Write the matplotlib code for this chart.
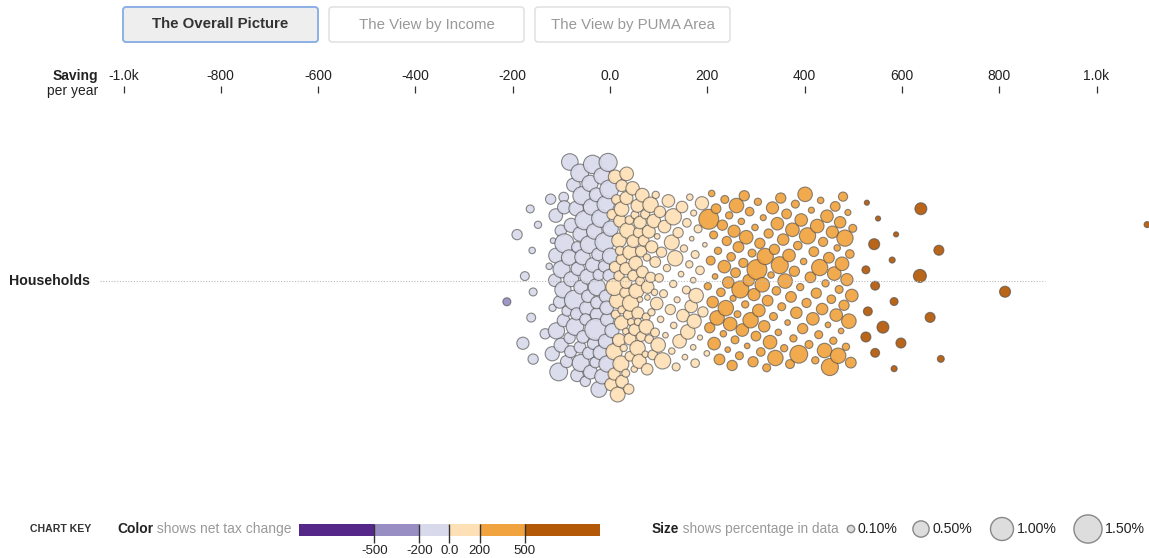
import numpy as np
import matplotlib.pyplot as plt
from matplotlib.colors import ListedColormap, BoundaryNorm
from matplotlib.patches import FancyBboxPatch, Circle

plt.rcParams['font.family'] = ['Liberation Sans', 'DejaVu Sans']

# ---- data: saving per year ($) and share of households (%) for each bubble ----
loss_saving = [
    -212, -191, -179, -175, -164, -162, -160, -158, -158, -148, -132, -125, -122, -118, -117, -117, -113,
    -111, -109, -106, -104, -103, -101, -98, -96, -95, -93, -92, -89, -88, -86, -84,
    -82, -80, -78, -77, -74, -73, -72, -71, -69, -67, -66, -64, -63, -61, -60, -58,
    -57, -56, -54, -52, -51, -50, -49, -47, -45, -44, -43, -41, -40, -39, -37, -35,
    -34, -33, -32, -31, -30, -29, -27, -26, -25, -24, -23, -22, -21, -20, -19, -18, -16, -15, -14, -13,
    -12, -11, -10, -9, -8, -7, -6, -5, -4, -3, -2, -1,
]
loss_share = [
    0.12, 0.2, 0.28, 0.15, 0.12, 0.15, 0.08, 0.2, 0.12, 0.1, 0.2, 0.08, 0.2, 0.1, 0.06, 0.38, 0.3,
    0.35, 0.5, 0.42, 0.6, 0.3, 0.25, 0.38, 0.55, 0.18, 0.3, 0.7, 0.28, 0.5, 0.33, 0.24,
    0.45, 0.52, 0.2, 0.38, 0.27, 0.42, 0.35, 0.58, 0.22, 0.3, 0.75, 0.4, 0.26, 0.34, 0.6, 0.28,
    0.4, 0.55, 0.36, 0.62, 0.3, 0.45, 0.2, 0.38, 0.68, 0.28, 0.42, 0.5, 0.25, 0.58, 0.36, 0.3,
    0.5, 0.26, 0.4, 0.64, 0.32, 0.46, 0.22, 0.55, 0.36, 0.9, 0.3, 0.48, 0.28, 0.6, 0.38, 0.24, 0.52, 0.34, 0.7, 0.42,
    0.3, 0.56, 0.4, 0.25, 0.62, 0.35, 0.45, 0.5, 0.28, 0.66, 0.38, 0.48,
]

gain_low_saving = [
    1, 2, 3, 4, 5, 6, 7, 8, 9, 10, 11, 12, 13, 14, 15, 16, 17, 18, 19, 20,
    21, 22, 23, 24, 25, 26, 27, 28, 29, 30, 31, 32, 33, 35, 36, 37, 38, 39, 40, 41,
    42, 43, 44, 46, 47, 48, 49, 50, 51, 52, 54, 55, 56, 57, 58, 60, 61, 62, 63, 64,
    66, 67, 68, 69, 71, 72, 73, 75, 76, 77, 79, 80, 81, 83, 84, 85, 87, 88, 90, 91,
    93, 94, 96, 97, 99, 100, 102, 104, 106, 108, 110, 112,
    114, 117, 120, 124, 127, 127, 130, 130, 131, 134, 136, 138, 140, 143, 146, 148, 150, 152, 154, 157,
    158, 160, 163, 164, 167, 168, 171, 171, 172, 173, 175, 175, 177, 181, 185, 185, 189, 191, 195, 199,
]
gain_low_share = [
    0.3, 0.45, 0.2, 0.5, 0.25, 0.35, 0.15, 0.4, 0.28, 0.55, 0.18, 0.32, 0.22, 0.42, 0.12, 0.3, 0.48, 0.2, 0.26, 0.38,
    0.15, 0.3, 0.22, 0.4, 0.1, 0.28, 0.35, 0.18, 0.45, 0.12, 0.25, 0.32, 0.08, 0.38, 0.2, 0.5, 0.14, 0.27, 0.22, 0.34,
    0.1, 0.3, 0.18, 0.42, 0.12, 0.25, 0.35, 0.08, 0.28, 0.2, 0.45, 0.15, 0.32, 0.1, 0.24, 0.38, 0.06, 0.3, 0.18, 0.26,
    0.35, 0.12, 0.22, 0.08, 0.3, 0.16, 0.4, 0.1, 0.25, 0.06, 0.32, 0.14, 0.2, 0.45, 0.1, 0.28, 0.18, 0.08, 0.35, 0.15,
    0.22, 0.1, 0.3, 0.06, 0.4, 0.14, 0.25, 0.08, 0.2, 0.5, 0.12, 0.3,
    0.06, 0.1, 0.3, 0.2, 0.42, 0.08, 0.1, 0.5, 0.08, 0.45, 0.12, 0.07, 0.2, 0.35, 0.06, 0.25, 0.3, 0.1, 0.06, 0.12,
    0.14, 0.4, 0.1, 0.08, 0.3, 0.04, 0.06, 0.06, 0.07, 0.38, 0.12, 0.14, 0.4, 0.12, 0.05, 0.14, 0.33, 0.2, 0.04, 0.06,
]

gain_mid_saving = [
    201, 203, 205, 207, 209, 211, 213, 214, 216, 218, 220, 222, 225, 228,
    231, 233, 235, 236, 238, 240, 242, 243, 245, 247, 249, 251, 253, 255, 257, 258, 260, 262,
    264, 266, 268, 270, 272, 274, 276, 278, 280, 282, 285, 287, 289, 292, 294, 296, 298, 300,
    302, 304, 306, 308, 310, 313, 315, 317, 319, 322, 324, 326, 329, 331, 334, 336, 338, 340,
    342, 344, 346, 349, 351, 353, 356, 358, 360, 363, 365, 368, 370, 372, 375, 377, 379, 381,
    383, 386, 388, 391, 393, 396, 398, 401, 404, 406, 409, 412, 414, 417, 419, 422,
    424, 426, 429, 431, 433, 436, 438, 441, 443, 446, 448, 450, 452, 455, 457, 459, 461, 463,
    465, 467, 469, 471, 473, 475, 477, 479, 481, 483, 485, 487, 489, 491, 493, 495, 497, 499,
]
gain_mid_share = [
    0.1, 0.75, 0.2, 0.15, 0.08, 0.25, 0.12, 0.3, 0.06, 0.18, 0.4, 0.1, 0.22, 0.14,
    0.2, 0.08, 0.3, 0.12, 0.45, 0.16, 0.06, 0.25, 0.1, 0.35, 0.14, 0.2, 0.07, 0.28, 0.12, 0.18, 0.4, 0.09,
    0.22, 0.12, 0.55, 0.08, 0.3, 0.16, 0.2, 0.1, 0.35, 0.06, 0.25, 0.14, 0.45, 0.12, 0.2, 0.28, 0.08, 0.18,
    0.75, 0.1, 0.3, 0.2, 0.14, 0.4, 0.07, 0.25, 0.5, 0.12, 0.22, 0.16, 0.35, 0.08, 0.28, 0.12, 0.2, 0.45,
    0.14, 0.3, 0.08, 0.55, 0.2, 0.12, 0.25, 0.1, 0.4, 0.18, 0.06, 0.3, 0.15, 0.22, 0.35, 0.1, 0.2, 0.12,
    0.25, 0.14, 0.6, 0.1, 0.3, 0.2, 0.08, 0.4, 0.16, 0.5, 0.12, 0.22, 0.07, 0.3, 0.18, 0.1,
    0.2, 0.35, 0.12, 0.5, 0.08, 0.25, 0.16, 0.4, 0.1, 0.3, 0.06, 0.22, 0.55, 0.14, 0.28, 0.1, 0.35, 0.18,
    0.3, 0.08, 0.45, 0.12, 0.25, 0.06, 0.35, 0.16, 0.2, 0.5, 0.1, 0.28, 0.07, 0.4, 0.14, 0.22, 0.3, 0.12,
]

gain_high_saving = [526, 526, 528, 530, 543, 545, 545, 551, 561, 580, 584, 584, 588, 598,
                    637, 639, 658, 676, 680, 812, 1104]
gain_high_share = [0.19, 0.12, 0.05, 0.15, 0.23, 0.15, 0.15, 0.05, 0.27, 0.07, 0.07, 0.12, 0.05, 0.19,
                   0.32, 0.27, 0.19, 0.19, 0.09, 0.23, 0.07]

axis_ticks = [-1000, -800, -600, -400, -200, 0, 200, 400, 600, 800, 1000]
axis_labels = ['-1.0k', '-800', '-600', '-400', '-200', '0.0', '200', '400', '600', '800', '1.0k']
key_bounds = [-500, -200, 0, 200, 500]
key_labels = ['-500', '-200', '0.0', '200', '500']
key_colors = ['#542788', '#998ec3', '#d8daeb', '#fee0b6', '#f1a340', '#b35806']
size_legend = [0.1, 0.5, 1.0, 1.5]
size_labels = ['0.10%', '0.50%', '1.00%', '1.50%']
buttons = ['The Overall Picture', 'The View by Income', 'The View by PUMA Area']

cmap = ListedColormap(key_colors)
norm = BoundaryNorm([-5000] + key_bounds + [5000], cmap.N)

W, H = 1149, 558
ROW_Y = 281


def bubble_r(share):
    return 11.5 * np.sqrt(np.asarray(share, dtype=float))


fig = plt.figure(figsize=(W / 100, H / 100), dpi=100)
ax = fig.add_axes([0, 0, 1, 1])
ax.set_xlim(-610 / 0.4865, (W - 610) / 0.4865)
ax.set_ylim(H, 0)
ax.set_axis_off()

deco = fig.add_axes([0, 0, 1, 1])
deco.set_xlim(0, W)
deco.set_ylim(H, 0)
deco.set_axis_off()

# ---- beeswarm layout (force simulation in pixel space) ----
saving = np.array(loss_saving + gain_low_saving + gain_mid_saving + gain_high_saving, dtype=float)
share = np.array(loss_share + gain_low_share + gain_mid_share + gain_high_share, dtype=float)
rad = bubble_r(share)
n = len(saving)
tx = ax.transData.transform(np.column_stack([saving, np.zeros(n)]))[:, 0]

# start spread evenly over the band (golden-ratio sequence), then relax
spread = ((np.arange(n) + 1) * 0.6180339887) % 1.0 - 0.5
x = tx.copy()
y = ROW_Y + spread * 200
vx = np.zeros(n)
vy = np.zeros(n)
cr = rad * 0.8 + 0.5
r2 = cr ** 2
wgt = r2[None, :] / (r2[:, None] + r2[None, :])
R = cr[:, None] + cr[None, :]
alpha = 1.0
decay = 1 - 0.001 ** (1 / 300)
for t in range(300):
    alpha -= alpha * decay
    vx += (tx - x) * 0.6 * alpha
    vy += (ROW_Y - y) * 0.002 * alpha
    for _ in range(2):
        px = x + vx
        py = y + vy
        dx = px[:, None] - px[None, :]
        dy = py[:, None] - py[None, :]
        d = np.hypot(dx, dy)
        np.fill_diagonal(d, np.inf)
        f = np.where(d < R, (R - d) / np.maximum(d, 1e-6) * 0.6, 0.0)
        vx += (dx * f * wgt).sum(1)
        vy += (dy * f * wgt).sum(1)
    vx *= 0.6
    vy *= 0.6
    x += vx
    y += vy

bx = ax.transData.inverted().transform(np.column_stack([x, np.zeros(n)]))[:, 0]
face = cmap(norm(saving))
face[:, 3] = 0.92
ax.scatter(bx, y, s=(1.44 * rad) ** 2, facecolors=face,
           edgecolors=(0.3, 0.3, 0.3, 0.65), linewidths=0.8, zorder=3)

# ---- top axis ----
for v, lab in zip(axis_ticks, axis_labels):
    ax.text(v, 76, lab, ha='center', va='center', fontsize=10, color='#222')
ax.vlines(axis_ticks, 86, 93, color='#333', lw=0.9)
deco.text(98, 76, 'Saving', ha='right', va='center', fontsize=10, weight='bold', color='#222')
deco.text(98, 91, 'per year', ha='right', va='center', fontsize=10, color='#222')

# ---- row label and guide ----
deco.plot([100, 1045], [ROW_Y, ROW_Y], ls=(0, (1, 1.5)), color='#bbbbbb', lw=0.8, zorder=1)
deco.text(90, ROW_Y, 'Households', ha='right', va='center', fontsize=10.2, weight='bold', color='#222')

# ---- buttons ----
bx0 = [123, 329, 535]
for i, (b, x0) in enumerate(zip(buttons, bx0)):
    active = i == 0
    deco.add_patch(FancyBboxPatch((x0, 7), 195, 35, boxstyle='round,pad=0,rounding_size=3',
                                  fc='#eeeeee' if active else 'white',
                                  ec='#8cb0e6' if active else '#dddddd',
                                  lw=1.4 if active else 1.0))
    deco.text(x0 + 97.5, 24.5, b, ha='center', va='center', fontsize=10.8,
              weight='bold' if active else 'normal', color='#333333' if active else '#999999')

# ---- chart key: colour ----
deco.text(30, 529, 'CHART KEY', ha='left', va='center', fontsize=7.6, weight='bold', color='#333')
t = deco.text(117, 529, 'Color', ha='left', va='center', fontsize=10, weight='bold', color='#222')
deco.annotate(' shows net tax change', xy=(1, 0.5), xycoords=t, ha='left', va='center',
              fontsize=10, color='#999999')
kax = fig.add_axes([299 / W, 1 - 536 / H, 301 / W, 12 / H])
kax.set_xlim(-1000, 1000)
kax.set_ylim(0, 1)
edges = [-1000] + key_bounds + [1000]
for i in range(len(key_colors)):
    kax.axvspan(edges[i], edges[i + 1], color=cmap(norm((edges[i] + edges[i + 1]) / 2)), lw=0)
kax.vlines(key_bounds, -0.55, 1, color='#333', lw=1.0, clip_on=False)
kax.set_xticks(key_bounds)
kax.set_xticklabels(key_labels, fontsize=9.5, color='#222')
kax.tick_params(length=0, pad=6.5)
kax.set_yticks([])
for s in kax.spines.values():
    s.set_visible(False)

# ---- chart key: size ----
t = deco.text(652, 529, 'Size', ha='left', va='center', fontsize=9.8, weight='bold', color='#222')
deco.annotate(' shows percentage in data', xy=(1, 0.5), xycoords=t, ha='left', va='center',
              fontsize=9.8, color='#999999')
cx = [851, 921, 1002, 1088]
for c, p, lab in zip(cx, size_legend, size_labels):
    r = float(bubble_r(p))
    deco.add_patch(Circle((c, 529), r, fc='#dddddd', ec='#888888', lw=1.0))
    deco.text(c + r + 3, 529, lab, ha='left', va='center', fontsize=10.2, color='#222')

fig.savefig('out.png', dpi=100)
